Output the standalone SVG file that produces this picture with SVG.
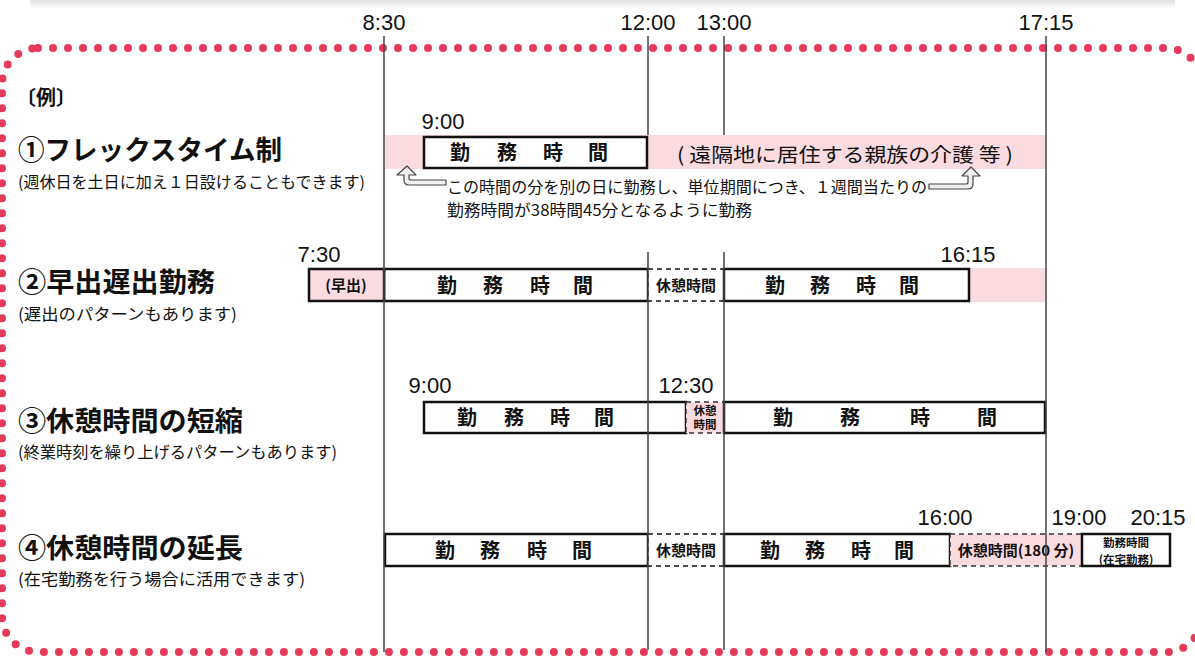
<svg xmlns="http://www.w3.org/2000/svg" width="1195" height="657" viewBox="0 0 1195 657">
<defs>
<linearGradient id="shadow" x1="0" y1="0" x2="0" y2="1">
<stop offset="0" stop-color="#e2e2e2"/>
<stop offset="1" stop-color="#ffffff"/>
</linearGradient>
<style>
.jp{font-family:"Noto Sans CJK JP","Noto Sans",sans-serif;fill:#111}
.title{font-size:27px;font-weight:bold}
.sub{font-size:16px}
.tm{font-family:"Liberation Sans",Arial,sans-serif;font-size:22px;fill:#111;text-anchor:middle}
.box{fill:#fff;stroke:#111;stroke-width:2.5}
.pinkbox{fill:#f9dbe0;stroke:#111;stroke-width:2.5}
.rest{fill:#fff;stroke:#111;stroke-width:1.5;stroke-dasharray:5 4}
.restp{fill:#f9dbe0;stroke:#333;stroke-width:1.5;stroke-dasharray:5 4}
.band{fill:#f9dbe0}
.wk{font-size:20px;font-weight:bold;text-anchor:middle}
.rt{font-size:15px;font-weight:bold;text-anchor:middle}
.sm{font-size:11.5px;font-weight:bold;text-anchor:middle}
.grid{stroke:#444;stroke-width:1.5;fill:none}
.arrow{fill:#f0f0f0;stroke:#444;stroke-width:1.2;stroke-linejoin:round}
</style>
</defs>
<rect width="1195" height="657" fill="#fff"/>
<rect x="30" y="0" width="1145" height="9" fill="url(#shadow)"/>
<rect id="border" x="2" y="48" width="1200" height="604" rx="36" fill="none" stroke="#e63a5a" stroke-width="8" stroke-linecap="round" stroke-dasharray="0 15"/>

<g id="timeline">
<text class="tm" x="384" y="30">8:30</text>
<text class="tm" x="648" y="30">12:00</text>
<text class="tm" x="724" y="30">13:00</text>
<text class="tm" x="1046" y="30">17:15</text>
</g>

<g id="legend" class="jp">
<text x="16" y="105" font-size="20" font-weight="bold">〔例〕</text>
<text class="title" x="18" y="160" textLength="264" lengthAdjust="spacingAndGlyphs">①フレックスタイム制</text>
<text class="sub" x="18" y="188" textLength="347" lengthAdjust="spacingAndGlyphs">(週休日を土日に加え１日設けることもできます)</text>
<text class="title" x="18" y="292" textLength="197" lengthAdjust="spacingAndGlyphs">②早出遅出勤務</text>
<text class="sub" x="18" y="320" textLength="219" lengthAdjust="spacingAndGlyphs">(遅出のパターンもあります)</text>
<text class="title" x="18" y="431" textLength="225" lengthAdjust="spacingAndGlyphs">③休憩時間の短縮</text>
<text class="sub" x="18" y="458" textLength="319" lengthAdjust="spacingAndGlyphs">(終業時刻を繰り上げるパターンもあります)</text>
<text class="title" x="18" y="558" textLength="225" lengthAdjust="spacingAndGlyphs">④休憩時間の延長</text>
<text class="sub" x="18" y="585" textLength="287" lengthAdjust="spacingAndGlyphs">(在宅勤務を行う場合に活用できます)</text>
</g>

<g id="row1">
<rect class="band" x="384" y="135" width="662" height="34"/>
<text class="tm" x="443" y="129">9:00</text>
<rect class="box" x="424" y="137" width="223" height="31"/>
<text class="jp wk" y="160"><tspan x="460">勤</tspan><tspan x="507">務</tspan><tspan x="553">時</tspan><tspan x="598">間</tspan></text>
<text class="jp" x="677" y="162" font-size="19.5" textLength="336" lengthAdjust="spacingAndGlyphs">( 遠隔地に居住する親族の介護 等 )</text>
<text class="jp" x="447" y="193" font-size="15.5" textLength="480" lengthAdjust="spacingAndGlyphs">この時間の分を別の日に勤務し、単位期間につき、１週間当たりの</text>
<text class="jp" x="447" y="216" font-size="15.5" textLength="305" lengthAdjust="spacingAndGlyphs">勤務時間が38時間45分となるように勤務</text>
</g>

<g id="row2">
<text class="tm" x="319" y="262">7:30</text>
<text class="tm" x="968" y="262">16:15</text>
<rect class="band" x="969" y="268" width="77" height="34"/>
<rect class="box" x="384" y="269" width="264" height="32"/>
<rect class="pinkbox" x="309" y="269" width="75" height="32"/>
<text class="jp rt" x="346" y="291">(早出)</text>
<text class="jp wk" y="293"><tspan x="447">勤</tspan><tspan x="493">務</tspan><tspan x="540">時</tspan><tspan x="583">間</tspan></text>
<rect class="rest" x="648" y="269" width="76" height="32"/>
<text class="jp rt" x="686" y="291">休憩時間</text>
<rect class="box" x="724" y="269" width="245" height="32"/>
<text class="jp wk" y="293"><tspan x="775">勤</tspan><tspan x="820">務</tspan><tspan x="866">時</tspan><tspan x="909">間</tspan></text>
</g>

<g id="row3">
<text class="tm" x="430" y="393">9:00</text>
<text class="tm" x="686" y="393">12:30</text>
<rect class="box" x="424" y="402" width="262" height="31"/>
<text class="jp wk" y="425"><tspan x="467">勤</tspan><tspan x="514">務</tspan><tspan x="560">時</tspan><tspan x="604">間</tspan></text>
<rect class="restp" x="686" y="402" width="38" height="31"/>
<text class="jp sm" x="705" y="415">休憩</text>
<text class="jp sm" x="705" y="429">時間</text>
<rect class="box" x="724" y="402" width="321" height="31"/>
<text class="jp wk" y="425"><tspan x="783">勤</tspan><tspan x="850">務</tspan><tspan x="920">時</tspan><tspan x="987">間</tspan></text>
</g>

<g id="row4">
<text class="tm" x="945" y="525">16:00</text>
<text class="tm" x="1079" y="525">19:00</text>
<text class="tm" x="1158" y="525">20:15</text>
<rect class="box" x="385" y="534" width="263" height="32"/>
<text class="jp wk" y="558"><tspan x="445">勤</tspan><tspan x="490">務</tspan><tspan x="537">時</tspan><tspan x="582">間</tspan></text>
<rect class="rest" x="648" y="534" width="76" height="32"/>
<text class="jp rt" x="686" y="556">休憩時間</text>
<rect class="box" x="724" y="534" width="226" height="32"/>
<text class="jp wk" y="558"><tspan x="770">勤</tspan><tspan x="815">務</tspan><tspan x="861">時</tspan><tspan x="904">間</tspan></text>
<rect class="restp" x="950" y="534" width="132" height="32"/>
<text class="jp rt" x="1016" y="556">休憩時間(180 分)</text>
<rect class="box" x="1082" y="534" width="88" height="32"/>
<text class="jp" x="1126" y="547" font-size="11.5" font-weight="bold" text-anchor="middle">勤務時間</text>
<text class="jp" x="1126" y="564" font-size="11.5" font-weight="bold" text-anchor="middle">(在宅勤務)</text>
</g>

<g id="gridlines" class="grid">
<line x1="384" y1="36" x2="384" y2="652"/>
<line x1="648" y1="36" x2="648" y2="135"/>
<line x1="648" y1="252" x2="648" y2="650"/>
<line x1="724" y1="36" x2="724" y2="135"/>
<line x1="724" y1="252" x2="724" y2="650"/>
<line x1="1046" y1="36" x2="1046" y2="652"/>
</g>

<g id="connectors">
<path class="arrow" d="M407,166 L397,175 L404,175 L404,180 Q404,185 409,185 L446,185 L446,180 L411,180 Q409,180 409,178 L409,175 L416,175 Z"/>
<path class="arrow" d="M971,167 L962,176 L968,176 L968,182 Q968,184 966,184 L929,184 L929,189 L968,189 Q973,189 973,184 L973,176 L980,176 Z"/>
</g>
</svg>
